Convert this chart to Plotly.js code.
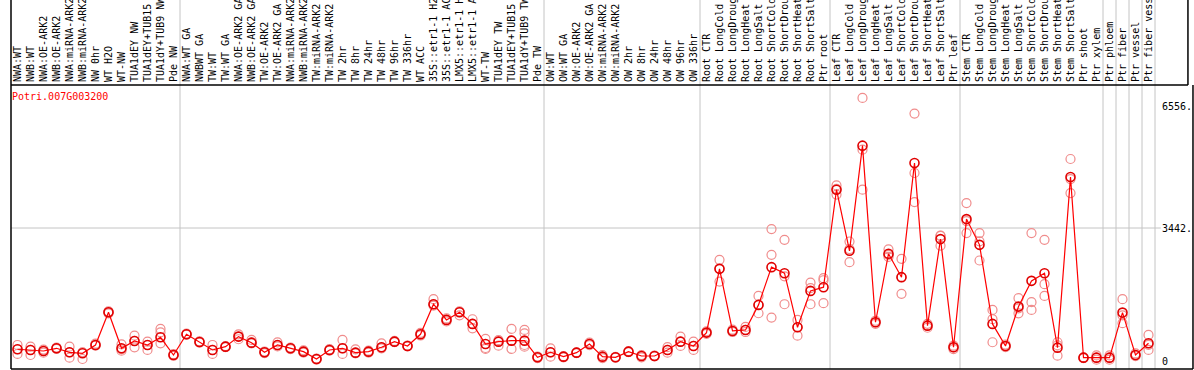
<!DOCTYPE html>
<html><head><meta charset="utf-8">
<script src="https://cdn.plot.ly/plotly-3.0.1.min.js"></script>
<style>html,body{margin:0;padding:0;background:#fff;}#chart{width:1194px;height:370px;}</style>
</head><body><div id="chart"></div>
<script>
const categories = [
"NWA:WT","NWB:WT","NWA:OE-ARK2","NWB:OE-ARK2","NWA:miRNA-ARK2","NWB:miRNA-ARK2","NW 0hr","WT H2O","WT-NW","TUA1dEY NW","TUA1dEY+TUB15","TUA1dY+TUB9 NW","Pde NW",
"NWA:WT GA","NWBWT GA","TW:WT","TW:WT GA","NWA:OE-ARK2 GA","NWB:OE-ARK2 GA","TW:OE-ARK2","TW:OE-ARK2 GA","NWA:miRNA-ARK2","NWB:miRNA-ARK2","TW:miRNA-ARK2","TW:miRNA-ARK2 ","TW 2hr","TW 8hr","TW 24hr","TW 48hr","TW 96hr","TW 336hr","WT ACC","35S::etr1-1 H2O","35S::etr1-1 ACC","LMX5::etr1-1 H2O","LMX5::etr1-1 ACC","WT-TW","TUA1dEY TW","TUA1dEY+TUB15 ","TUA1dY+TUB9 TW","Pde TW",
"OW:WT","OW:WT GA","OW:OE-ARK2","OW:OE-ARK2 GA","OW:miRNA-ARK2","OW:miRNA-ARK2 ","OW 2hr","OW 8hr","OW 24hr","OW 48hr","OW 96hr","OW 336hr",
"Root CTR","Root LongCold","Root LongDrought","Root LongHeat","Root LongSalt","Root ShortCold","Root ShortDrought","Root ShortHeat","Root ShortSalt","Ptr root",
"Leaf CTR","Leaf LongCold","Leaf LongDrought","Leaf LongHeat","Leaf LongSalt","Leaf ShortCold","Leaf ShortDrought","Leaf ShortHeat","Leaf ShortSalt","Ptr leaf",
"Stem CTR","Stem LongCold","Stem LongDrought","Stem LongHeat","Stem LongSalt","Stem ShortCold","Stem ShortDrought","Stem ShortHeat","Stem ShortSalt","Ptr shoot","Ptr xylem",
"Ptr phloem","Ptr fiber","Ptr vessel","Ptr fiber vessel"];
const groupSizes = [13, 28, 12, 10, 10, 11, 1, 1, 1, 1];

const meanValues = [327,309,283,352,249,224,437,1279,352,540,437,635,180,
712,515,309,394,652,497,249,437,352,266,77,309,352,240,266,378,523,412,712,1484,1081,1279,978,463,523,548,548,120,
249,137,240,463,137,120,266,154,154,309,523,412,
755,2393,798,823,1467,2436,2281,892,1827,1922,
4426,2856,5558,1021,2779,2179,5113,934,3157,378,
3671,3010,978,412,1423,2084,2281,368,4752,111,111,
111,1269,180,481];

const rep1 = [437,394,240,352,394,77,470,1300,455,677,523,849,200,
730,530,437,410,712,566,270,506,370,300,90,330,566,326,290,480,540,420,750,1613,1120,1300,1098,592,560,849,823,140,
352,150,250,500,180,130,280,180,165,380,652,523,
790,2624,830,900,1698,3414,3139,1081,2037,2153,
4537,3095,6785,1060,2895,2650,6381,980,3245,420,
4083,3311,1338,450,1639,3311,3139,507,5215,120,170,
170,1613,220,695];
const rep2 = [206,180,283,370,111,250,420,1250,330,378,309,763,160,
700,500,206,380,584,480,230,400,330,240,60,290,206,220,240,350,510,400,680,1450,1040,1200,866,360,420,335,737,100,
137,120,230,430,100,110,250,120,145,240,412,309,
720,2066,770,770,1252,2753,2200,677,1900,2100,
4450,2900,5455,980,2750,2179,4855,880,3240,330,
3311,3100,1100,380,1380,1536,1999,430,4700,100,60,
60,1200,150,440];
const rep3 = [327,309,320,335,249,240,437,1279,290,540,437,480,180,
712,515,309,394,652,497,249,437,352,266,77,309,352,240,266,378,523,412,712,1484,1081,1279,978,335,523,548,437,120,
249,137,240,463,137,120,266,154,154,309,523,412,
755,2393,798,823,1467,1141,1484,892,1484,1510,
4300,2565,4426,1021,2700,1750,4109,934,2988,378,
3620,2607,507,412,1250,1338,1698,162,4340,111,111,
111,996,180,309];
const rep4 = categories.map(() => null);
rep4[39] = 394;

const yTickVals = [0, 3442, 6556];
const yTickText = ["0", "3442.", "6556."];
const titleText = "Potri.007G003200";

const mono = "DejaVu Sans Mono, Liberation Mono, monospace";
const N = categories.length;
const xs = categories.map((c, i) => i);

const repColor = "#f08c8c";
const traces = [];
[rep1, rep2, rep3, rep4].forEach(r => {
  traces.push({
    type: "scatter", mode: "markers", x: xs, y: r,
    marker: {symbol: "circle-open", size: 9, color: repColor, line: {width: 1.2, color: repColor}},
    hoverinfo: "skip", showlegend: false
  });
});
traces.push({
  type: "scatter", mode: "lines+markers", x: xs, y: meanValues,
  line: {color: "#ff0000", width: 1.2},
  marker: {symbol: "circle-open", size: 9, color: "#e00000", line: {width: 1.6, color: "#e00000"}},
  showlegend: false
});

// paper geometry
const yTopImg = 369 / 284;
const shapes = [];
let cum = 0;
groupSizes.forEach(g => {
  cum += g;
  const xp = cum / N;
  shapes.push({type: "line", xref: "paper", yref: "paper", x0: xp, x1: xp, y0: 0, y1: yTopImg,
    line: {color: "#c4c4c4", width: 1}, layer: "below"});
});
shapes.push({type: "line", xref: "paper", yref: "y", x0: 0, x1: 1.005, y0: yTickVals[1], y1: yTickVals[1],
  line: {color: "#c4c4c4", width: 1}, layer: "below"});
// frame
const bl = {color: "#000", width: 1.5};
shapes.push({type: "line", xref: "paper", yref: "paper", x0: 0, x1: 0, y0: 0, y1: yTopImg, line: bl});
shapes.push({type: "line", xref: "paper", yref: "paper", x0: 0, x1: 1.0288, y0: 1, y1: 1, line: bl});
shapes.push({type: "line", xref: "paper", yref: "paper", x0: 1.0288, x1: 1.0288, y0: 1, y1: yTopImg, line: bl});
shapes.push({type: "line", xref: "paper", yref: "paper", x0: 0, x1: 1.0332, y0: 0, y1: 0, line: bl});
shapes.push({type: "line", xref: "paper", yref: "paper", x0: 1.0332, x1: 1.0332, y0: 0, y1: 1, line: bl});

const layout = {
  width: 1194, height: 370,
  margin: {l: 11, r: 39, t: 85, b: 1, pad: 0},
  paper_bgcolor: "#fff", plot_bgcolor: "#fff",
  showlegend: false,
  xaxis: {
    type: "linear", range: [-0.5, N - 0.5], side: "top",
    tickmode: "array", tickvals: xs, ticktext: categories,
    tickangle: -90, tickfont: {family: mono, size: 10, color: "#000"},
    ticks: "", showgrid: false, zeroline: false, showline: false,
    automargin: false, ticklabelstandoff: 2
  },
  yaxis: {
    range: [-180, 7116], side: "right",
    tickmode: "array", tickvals: yTickVals, ticktext: yTickText,
    tickfont: {family: mono, size: 10, color: "#000"},
    ticks: "", showgrid: false, zeroline: false, showline: false,
    automargin: false, ticklabelstandoff: 6
  },
  shapes: shapes,
  annotations: [{
    text: titleText, xref: "paper", yref: "paper", x: -0.001, y: 1 - 12 / 284,
    xanchor: "left", yanchor: "middle", showarrow: false,
    font: {family: mono, size: 10, color: "#ff0000"}
  }]
};

Plotly.newPlot("chart", traces, layout, {staticPlot: true, displayModeBar: false});
</script>
</body></html>
